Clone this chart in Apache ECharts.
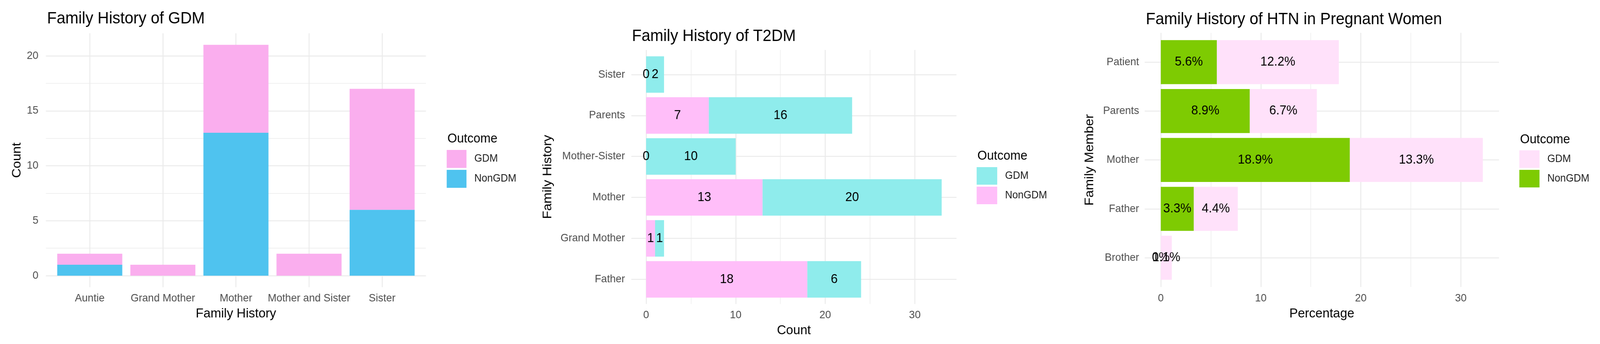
<!DOCTYPE html>
<html><head><meta charset="utf-8">
<script src="https://cdn.jsdelivr.net/npm/echarts@6/dist/echarts.min.js"></script>
<style>html,body{margin:0;padding:0;background:#fff;overflow:hidden}#c{width:4284px;height:881px;transform-origin:0 0;position:absolute;left:0;top:0}</style>
</head><body><div id="c"></div>
<script>
// ---- Panel 1: Family History of GDM ----
const gdmCategories = ['Auntie', 'Grand Mother', 'Mother', 'Mother and Sister', 'Sister'];
const gdmNonGDM = [1, 0, 13, 0, 6];
const gdmGDM = [1, 1, 8, 2, 11];
const gdmYTicks = [0, 5, 10, 15, 20];
const gdmYMinor = [2.5, 7.5, 12.5, 17.5];

// ---- Panel 2: Family History of T2DM ----
const t2dmCategories = ['Father', 'Grand Mother', 'Mother', 'Mother-Sister', 'Parents', 'Sister'];
const t2dmNonGDM = [18, 1, 13, 0, 7, 0];
const t2dmGDM = [6, 1, 20, 10, 16, 2];
const t2dmXTicks = [0, 10, 20, 30];
const t2dmXMinor = [5, 15, 25];

// ---- Panel 3: Family History of HTN in Pregnant Women ----
const htnCategories = ['Brother', 'Father', 'Mother', 'Parents', 'Patient'];
const htnNonGDM = [0, 3.3, 18.9, 8.9, 5.6];
const htnGDM = [1.1, 4.4, 13.3, 6.7, 12.2];
const htnXTicks = [0, 10, 20, 30];
const htnXMinor = [5, 15, 25];

const legendNames = ['GDM', 'NonGDM'];

const W = 4284, H = 881;
const el = document.getElementById('c');
const sx = (window.innerWidth || W) / W, sy = (window.innerHeight || H) / H;
el.style.transform = 'scale(' + sx + ',' + sy + ')';

const FONT = 'Liberation Sans';
const GRIDC = '#EBEBEB';
const TICKC = '#4D4D4D';
const C1 = { GDM: '#FAAEEE', NonGDM: '#4FC3EF' };
const C2 = { GDM: '#8FECEC', NonGDM: '#FFBEF9' };
const C3 = { GDM: '#FFE1FA', NonGDM: '#7ECB02' };

const tickLabel = (margin, extra) => Object.assign({ margin: margin, fontSize: 28, color: TICKC, fontFamily: FONT }, extra || {});
const nameStyle = { fontSize: 34, color: '#000', fontFamily: FONT };

function mainValueAxis(gridIndex, min, max, ticks, margin, name, nameGap) {
  return {
    type: 'value', gridIndex: gridIndex, min: min, max: max,
    axisLine: { show: false }, axisTick: { show: false, customValues: ticks },
    axisLabel: tickLabel(margin, { customValues: ticks }),
    splitLine: { show: true, lineStyle: { color: GRIDC, width: 2.6 } },
    name: name, nameLocation: 'middle', nameGap: nameGap, nameTextStyle: nameStyle
  };
}
function minorValueAxis(gridIndex, min, max, ticks) {
  return {
    type: 'value', gridIndex: gridIndex, min: min, max: max,
    axisLine: { show: false }, axisTick: { show: false, customValues: ticks },
    axisLabel: { show: false }, splitLine: { show: true, lineStyle: { color: GRIDC, width: 1.4 } }
  };
}
function hiddenAxis(gridIndex, min, max) {
  return { type: 'value', gridIndex: gridIndex, min: min, max: max, show: false };
}
function catAxis(gridIndex, data, margin, name, nameGap) {
  return {
    type: 'category', gridIndex: gridIndex, data: data,
    axisLine: { show: false, onZero: false }, axisTick: { show: false, alignWithLabel: true },
    axisLabel: tickLabel(margin, { interval: 0 }),
    splitLine: { show: true, alignWithLabel: true, lineStyle: { color: GRIDC, width: 2.6 } },
    name: name, nameLocation: 'middle', nameGap: nameGap, nameTextStyle: nameStyle
  };
}
function legend(left, top, w, h, colors) {
  return {
    orient: 'vertical', left: left, top: top, itemWidth: w, itemHeight: h, itemGap: 5,
    icon: 'rect', padding: 0, selectedMode: false,
    textStyle: { fontSize: 27, color: '#1A1A1A', fontFamily: FONT, padding: [0, 0, 0, 16] },
    data: legendNames.map(n => ({ name: n, itemStyle: { color: colors[n] } }))
  };
}
const titleStyle = { fontSize: 42, fontWeight: 'normal', color: '#000', fontFamily: FONT };
const legTitleStyle = { fontSize: 33, fontWeight: 'normal', color: '#000', fontFamily: FONT };
const lbl = { show: true, position: 'inside', color: '#000', fontSize: 33, fontFamily: FONT };
const pctLbl = Object.assign({}, lbl, { formatter: p => p.value + '%' });

const P1Y = [-1.05, 22.05], P2X = [-1.65, 34.65], P3X = [-1.61, 33.81];

const option = {
  animation: false,
  backgroundColor: '#fff',
  title: [
    { text: 'Family History of GDM', left: 126, top: 27, padding: 0, textStyle: titleStyle },
    { text: 'Family History of T2DM', left: 1692, top: 72, padding: 0, textStyle: titleStyle },
    { text: 'Family History of HTN in Pregnant Women', left: 3068, top: 29, padding: 0, textStyle: titleStyle },
    { text: 'Outcome', left: 1198, top: 339, padding: 0, textStyle: legTitleStyle },
    { text: 'Outcome', left: 2617, top: 383, padding: 0, textStyle: legTitleStyle },
    { text: 'Outcome', left: 4070, top: 341, padding: 0, textStyle: legTitleStyle }
  ],
  legend: [
    legend(1196, 384, 53, 46, C1),
    legend(2615, 428, 55, 45, C2),
    legend(4068, 385, 54, 45, C3)
  ],
  grid: [
    { left: 122.9, top: 85.3, width: 1017.6, height: 650.3 },   // P1 panel
    { left: 142.45, top: 85.3, width: 978.5, height: 650.3 },   // P1 bars
    { left: 1690.4, top: 128, width: 870.5, height: 650.5 },    // P2 panel
    { left: 1690.4, top: 138.4, width: 870.5, height: 629.5 },  // P2 bars
    { left: 3064.9, top: 84, width: 948.5, height: 651 },       // P3 panel
    { left: 3064.9, top: 96.4, width: 948.5, height: 626.3 }    // P3 bars
  ],
  xAxis: [
    hiddenAxis(0, 0, 1),
    catAxis(1, gdmCategories, 15, 'Family History', 51),
    mainValueAxis(2, P2X[0], P2X[1], t2dmXTicks, 15, 'Count', 51),
    minorValueAxis(2, P2X[0], P2X[1], t2dmXMinor),
    hiddenAxis(3, P2X[0], P2X[1]),
    mainValueAxis(4, P3X[0], P3X[1], htnXTicks, 15.5, 'Percentage', 51.5),
    minorValueAxis(4, P3X[0], P3X[1], htnXMinor),
    hiddenAxis(5, P3X[0], P3X[1])
  ],
  yAxis: [
    mainValueAxis(0, P1Y[0], P1Y[1], gdmYTicks, 20, 'Count', 60.5),
    minorValueAxis(0, P1Y[0], P1Y[1], gdmYMinor),
    hiddenAxis(1, P1Y[0], P1Y[1]),
    hiddenAxis(2, 0, 1),
    catAxis(3, t2dmCategories, 17, 'Family History', 207),
    hiddenAxis(4, 0, 1),
    catAxis(5, htnCategories, 15, 'Family Member', 130)
  ],
  series: [
    { type: 'bar', name: 'NonGDM', xAxisIndex: 1, yAxisIndex: 2, stack: 'p1', barWidth: '89%', data: gdmNonGDM, itemStyle: { color: C1.NonGDM } },
    { type: 'bar', name: 'GDM', xAxisIndex: 1, yAxisIndex: 2, stack: 'p1', barWidth: '89%', data: gdmGDM, itemStyle: { color: C1.GDM } },
    { type: 'bar', name: 'NonGDM', xAxisIndex: 4, yAxisIndex: 4, stack: 'p2', barWidth: '89%', data: t2dmNonGDM, itemStyle: { color: C2.NonGDM }, label: lbl },
    { type: 'bar', name: 'GDM', xAxisIndex: 4, yAxisIndex: 4, stack: 'p2', barWidth: '89%', data: t2dmGDM, itemStyle: { color: C2.GDM }, label: lbl },
    { type: 'bar', name: 'NonGDM', xAxisIndex: 7, yAxisIndex: 6, stack: 'p3', barWidth: '90%', data: htnNonGDM, itemStyle: { color: C3.NonGDM }, label: pctLbl },
    { type: 'bar', name: 'GDM', xAxisIndex: 7, yAxisIndex: 6, stack: 'p3', barWidth: '90%', data: htnGDM, itemStyle: { color: C3.GDM }, label: pctLbl }
  ]
};
const chart = echarts.init(el, null, { renderer: 'canvas', width: W, height: H });
chart.setOption(option);
</script></body></html>
